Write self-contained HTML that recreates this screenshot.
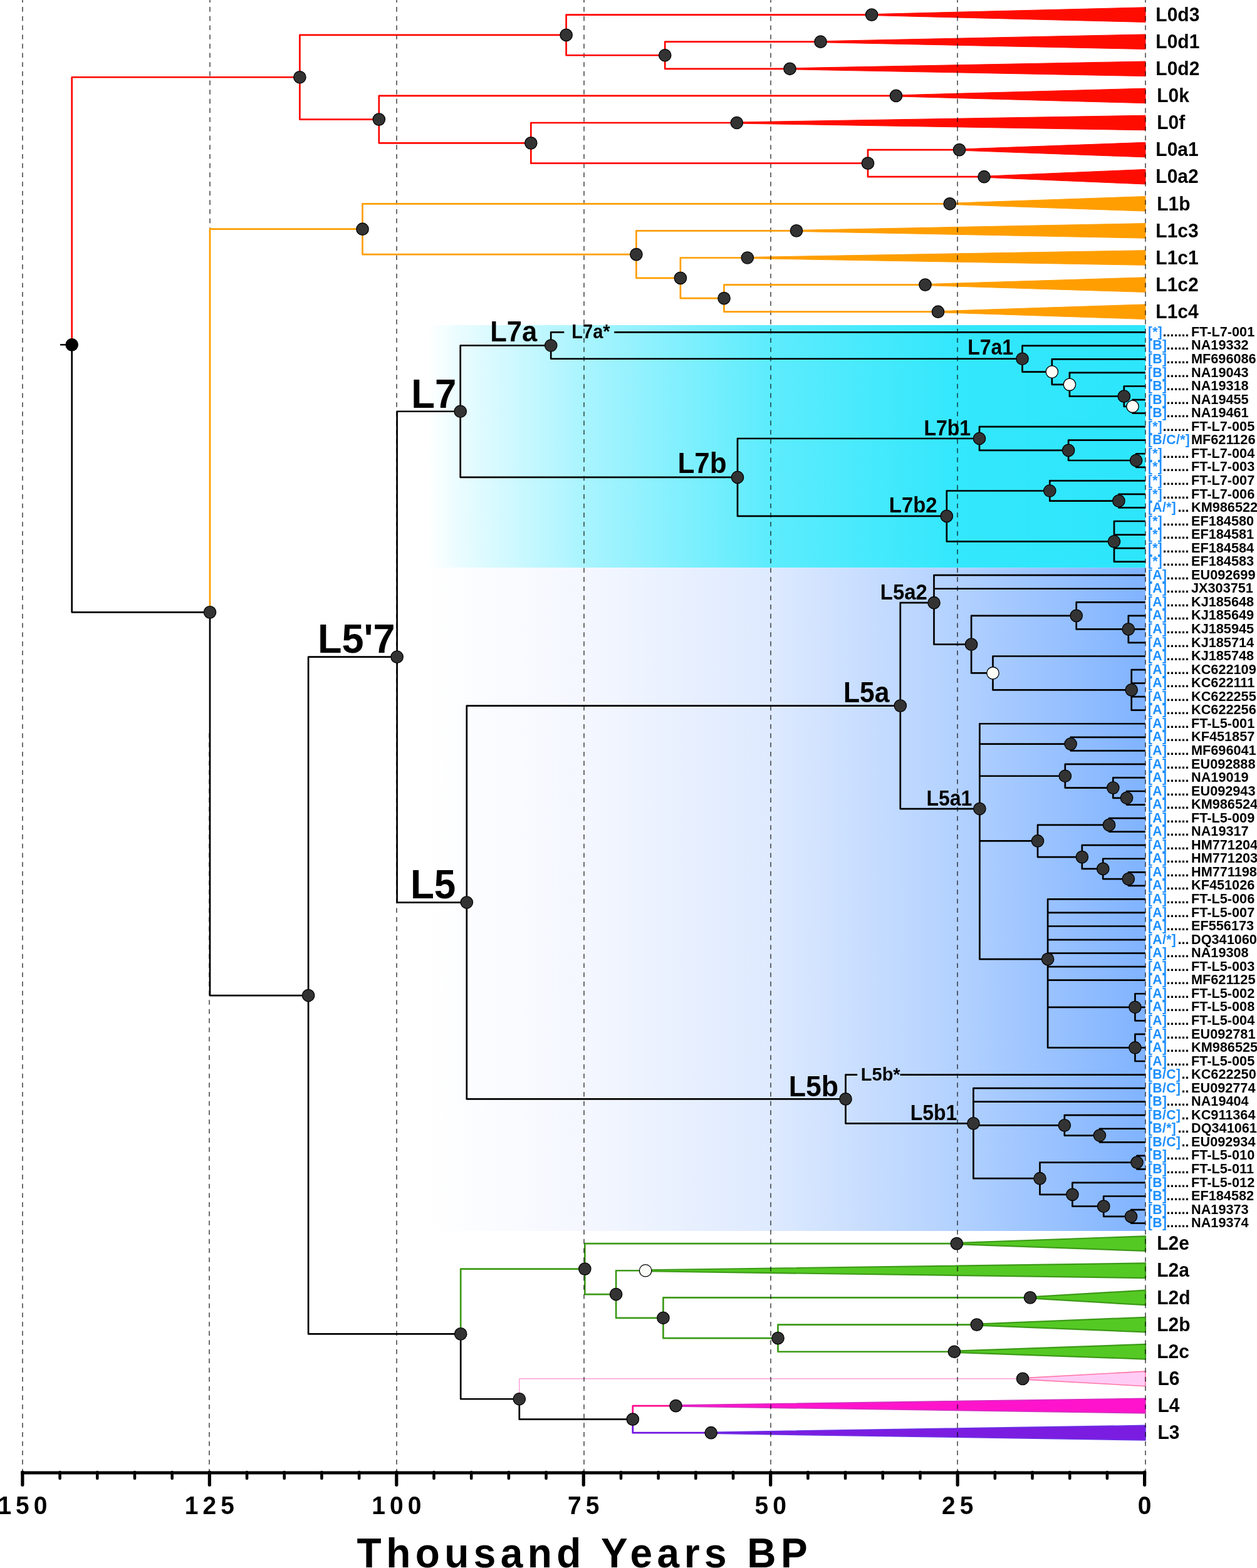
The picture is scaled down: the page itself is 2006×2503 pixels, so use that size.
<!DOCTYPE html><html><head><meta charset="utf-8"><title>mtDNA L tree</title>
<style>html,body{margin:0;padding:0;background:#fff;}svg{display:block;}text{font-family:"Liberation Sans",Arial,Helvetica,sans-serif;}</style></head><body>
<svg width="2006" height="2503" viewBox="0 0 2006 2503">
<defs>
<linearGradient id="gc" gradientUnits="userSpaceOnUse" x1="683" y1="0" x2="1828" y2="0"><stop offset="0" stop-color="#ffffff"/><stop offset="0.045" stop-color="#e9fcff"/><stop offset="0.22" stop-color="#a8f4fe"/><stop offset="0.475" stop-color="#5decfd"/><stop offset="0.74" stop-color="#33e7fc"/><stop offset="1" stop-color="#2de6fc"/></linearGradient>
<linearGradient id="gb" gradientUnits="userSpaceOnUse" x1="683" y1="0" x2="1828" y2="0"><stop offset="0" stop-color="#ffffff"/><stop offset="0.22" stop-color="#f4f7ff"/><stop offset="0.475" stop-color="#deeaff"/><stop offset="0.74" stop-color="#b2d1ff"/><stop offset="1" stop-color="#80b3ff"/></linearGradient>
</defs>
<rect x="683" y="519" width="1145" height="387.2" fill="url(#gc)"/>
<rect x="683" y="906.2" width="1145" height="1058.8" fill="url(#gb)"/>
<polygon points="1391.1,22.6 1828,11.8 1828,35.4 1391.1,24.6" fill="#ff0c00" stroke="#ff0c00" stroke-width="1" stroke-linejoin="round"/>
<polygon points="1309.5,65.7 1828,54.9 1828,78.5 1309.5,67.7" fill="#ff0c00" stroke="#ff0c00" stroke-width="1" stroke-linejoin="round"/>
<polygon points="1260.5,108.8 1828,98 1828,121.6 1260.5,110.8" fill="#ff0c00" stroke="#ff0c00" stroke-width="1" stroke-linejoin="round"/>
<polygon points="1430,151.9 1828,141.1 1828,164.7 1430,153.9" fill="#ff0c00" stroke="#ff0c00" stroke-width="1" stroke-linejoin="round"/>
<polygon points="1175.8,195 1828,184.2 1828,207.8 1175.8,197" fill="#ff0c00" stroke="#ff0c00" stroke-width="1" stroke-linejoin="round"/>
<polygon points="1531,238.1 1828,227.3 1828,250.9 1531,240.1" fill="#ff0c00" stroke="#ff0c00" stroke-width="1" stroke-linejoin="round"/>
<polygon points="1570.5,281.2 1828,270.4 1828,294 1570.5,283.2" fill="#ff0c00" stroke="#ff0c00" stroke-width="1" stroke-linejoin="round"/>
<polygon points="1515.7,324.3 1828,313.5 1828,337.1 1515.7,326.3" fill="#ff9e00" stroke="#ff9e00" stroke-width="1" stroke-linejoin="round"/>
<polygon points="1271,367.4 1828,356.6 1828,380.2 1271,369.4" fill="#ff9e00" stroke="#ff9e00" stroke-width="1" stroke-linejoin="round"/>
<polygon points="1192.8,410.5 1828,399.7 1828,423.3 1192.8,412.5" fill="#ff9e00" stroke="#ff9e00" stroke-width="1" stroke-linejoin="round"/>
<polygon points="1476.5,453.6 1828,442.8 1828,466.4 1476.5,455.6" fill="#ff9e00" stroke="#ff9e00" stroke-width="1" stroke-linejoin="round"/>
<polygon points="1497,496.7 1828,485.9 1828,509.5 1497,498.7" fill="#ff9e00" stroke="#ff9e00" stroke-width="1" stroke-linejoin="round"/>
<path d="M735.2 2129.42V2025.56H933.3M933.3 2025.56V1985.1H1526.8M933.3 2025.56V2066.03H983.1M983.1 2066.03V2028.26H1030.1M983.1 2066.03V2103.79H1058.4M1058.4 2103.79V2071.42H1644M1058.4 2103.79V2136.16H1241.5M1241.5 2136.16V2114.58H1558.8M1241.5 2136.16V2157.74H1522.9" fill="none" stroke="#3c9a16" stroke-width="2.7" stroke-linejoin="round" stroke-linecap="butt"/>
<path d="M828.8 2233.27V2200.9H1632.1" fill="none" stroke="#ff8ccd" stroke-width="1.2" stroke-linejoin="round" stroke-linecap="butt"/>
<path d="M1009.8 2265.64V2244.06H1078.5" fill="none" stroke="#ff0a8c" stroke-width="2.7" stroke-linejoin="round" stroke-linecap="butt"/>
<path d="M1009.8 2265.64V2287.22H1134.7" fill="none" stroke="#7012e0" stroke-width="2.7" stroke-linejoin="round" stroke-linecap="butt"/>
<polygon points="1526.8,1984.1 1828,1973.3 1828,1996.9 1526.8,1986.1" fill="#55c923" stroke="#3d9a18" stroke-width="2.2" stroke-linejoin="round"/>
<polygon points="1030.1,2027.26 1828,2016.46 1828,2040.06 1030.1,2029.26" fill="#55c923" stroke="#3d9a18" stroke-width="2.2" stroke-linejoin="round"/>
<polygon points="1644,2070.42 1828,2059.62 1828,2083.22 1644,2072.42" fill="#55c923" stroke="#3d9a18" stroke-width="2.2" stroke-linejoin="round"/>
<polygon points="1558.8,2113.58 1828,2102.78 1828,2126.38 1558.8,2115.58" fill="#55c923" stroke="#3d9a18" stroke-width="2.2" stroke-linejoin="round"/>
<polygon points="1522.9,2156.74 1828,2145.94 1828,2169.54 1522.9,2158.74" fill="#55c923" stroke="#3d9a18" stroke-width="2.2" stroke-linejoin="round"/>
<polygon points="1632.1,2199.9 1828,2189.1 1828,2212.7 1632.1,2201.9" fill="#ffccf6" stroke="#ff78a8" stroke-width="1.6" stroke-linejoin="round"/>
<polygon points="1078.5,2243.06 1828,2232.26 1828,2255.86 1078.5,2245.06" fill="#ff14cc" stroke="#d22fbe" stroke-width="1.6" stroke-linejoin="round"/>
<polygon points="1134.7,2286.22 1828,2275.42 1828,2299.02 1134.7,2288.22" fill="#7b1de0" stroke="#6a30e6" stroke-width="1.6" stroke-linejoin="round"/>
<line x1="36" y1="-3.577" x2="36" y2="2349" stroke="#000" stroke-opacity="0.57" stroke-width="2" stroke-dasharray="7.6 7.077"/>
<line x1="633" y1="-3.577" x2="633" y2="2349" stroke="#000" stroke-opacity="0.57" stroke-width="2" stroke-dasharray="7.6 7.077"/>
<line x1="932" y1="-3.577" x2="932" y2="2349" stroke="#000" stroke-opacity="0.57" stroke-width="2" stroke-dasharray="7.6 7.077"/>
<line x1="1230" y1="-3.577" x2="1230" y2="2349" stroke="#000" stroke-opacity="0.57" stroke-width="2" stroke-dasharray="7.6 7.077"/>
<line x1="1528" y1="-3.577" x2="1528" y2="2349" stroke="#000" stroke-opacity="0.57" stroke-width="2" stroke-dasharray="7.6 7.077"/>
<line x1="1828" y1="-3.577" x2="1828" y2="2349" stroke="#000" stroke-opacity="0.57" stroke-width="2" stroke-dasharray="7.6 7.077"/>
<line x1="335" y1="-3.577" x2="335" y2="1170.58" stroke="#000" stroke-opacity="0.57" stroke-width="2" stroke-dasharray="7.6 7.077"/>
<line x1="334" y1="1170.58" x2="334" y2="2349" stroke="#000" stroke-opacity="0.57" stroke-width="2" stroke-dasharray="7.6 7.077"/>
<path d="M114.7 550.32V123.27H478.4M478.4 123.27V55.92H903.6M903.6 55.92V23.6H1391.1M903.6 55.92V88.25H1061.2M1061.2 88.25V66.7H1309.5M1061.2 88.25V109.8H1260.5M478.4 123.27V190.61H604.8M604.8 190.61V152.9H1430M604.8 190.61V228.33H847.3M847.3 228.33V196H1175.8M847.3 228.33V260.65H1385M1385 260.65V239.1H1531M1385 260.65V282.2H1570.5" fill="none" stroke="#ff0500" stroke-width="2.7" stroke-linejoin="round" stroke-linecap="butt"/>
<path d="M114.7 550.32V977.37H335M335 977.37V1589.03H492.1M492.1 1589.03V1048.63H633.6M633.6 1048.63V656.74H734.7M734.7 656.74V551.51H879.2M879.2 551.51V530.3H900.3M980.2 530.3H1828M879.2 551.51V572.73H1631.5M1631.5 572.73V551.85H1828M1631.5 572.73V593.6H1678.8M1678.8 593.6V573.4H1828M1678.8 593.6V613.81H1706.9M1706.9 613.81V594.95H1828M1706.9 613.81V632.66H1793.8M1793.8 632.66V616.5H1828M1793.8 632.66V648.82H1807.5M1807.5 648.82V638.05H1828M1807.5 648.82V659.6H1828M734.7 656.74V761.96H1177M1177 761.96V700.01H1563M1563 700.01V681.15H1828M1563 700.01V718.86H1705.1M1705.1 718.86V702.7H1828M1705.1 718.86V735.02H1813.1M1813.1 735.02V724.25H1828M1813.1 735.02V745.8H1828M1177 761.96V823.92H1510.8M1510.8 823.92V783.51H1675.3M1675.3 783.51V767.35H1828M1675.3 783.51V799.67H1785.4M1785.4 799.67V788.9H1828M1785.4 799.67V810.45H1828M1510.8 823.92V864.32H1778M1778 864.32V832H1828M1778 864.32V853.55H1828M1778 864.32V875.1H1828M1778 864.32V896.65H1828M633.6 1048.63V1440.53H744.8M744.8 1440.53V1126.62H1436.8M1436.8 1126.62V962.2H1490.5M1490.5 962.2V918.2H1828M1490.5 962.2V939.75H1828M1490.5 962.2V1028.64H1550.1M1550.1 1028.64V982.85H1717.7M1717.7 982.85V961.3H1828M1717.7 982.85V1004.4H1800.8M1800.8 1004.4V982.85H1828M1800.8 1004.4V1004.4H1828M1800.8 1004.4V1025.95H1828M1550.1 1028.64V1074.44H1584.5M1584.5 1074.44V1047.5H1828M1584.5 1074.44V1101.38H1805.7M1805.7 1101.38V1069.05H1828M1805.7 1101.38V1090.6H1828M1805.7 1101.38V1112.15H1828M1805.7 1101.38V1133.7H1828M1436.8 1126.62V1291.04H1563.4M1563.4 1291.04V1155.25H1828M1563.4 1291.04V1187.57H1708.6M1708.6 1187.57V1176.8H1828M1708.6 1187.57V1198.35H1828M1563.4 1291.04V1238.76H1699.8M1699.8 1238.76V1219.9H1828M1699.8 1238.76V1257.61H1776.3M1776.3 1257.61V1241.45H1828M1776.3 1257.61V1273.78H1798M1798 1273.78V1263H1828M1798 1273.78V1284.55H1828M1563.4 1291.04V1342.47H1656M1656 1342.47V1316.88H1770M1770 1316.88V1306.1H1828M1770 1316.88V1327.65H1828M1656 1342.47V1368.06H1726.8M1726.8 1368.06V1349.2H1828M1726.8 1368.06V1386.91H1760.2M1760.2 1386.91V1370.75H1828M1760.2 1386.91V1403.07H1800.8M1800.8 1403.07V1392.3H1828M1800.8 1403.07V1413.85H1828M1563.4 1291.04V1531.18H1672.1M1672.1 1531.18V1435.4H1828M1672.1 1531.18V1456.95H1828M1672.1 1531.18V1478.5H1828M1672.1 1531.18V1500.05H1828M1672.1 1531.18V1521.6H1828M1672.1 1531.18V1543.15H1828M1672.1 1531.18V1564.7H1828M1672.1 1531.18V1607.8H1811.4M1811.4 1607.8V1586.25H1828M1811.4 1607.8V1607.8H1828M1811.4 1607.8V1629.35H1828M1672.1 1531.18V1672.45H1811.4M1811.4 1672.45V1650.9H1828M1811.4 1672.45V1672.45H1828M1811.4 1672.45V1694H1828M744.8 1440.53V1754.44H1349.5M1349.5 1754.44V1715.55H1368.2M1436.5 1715.55H1828M1349.5 1754.44V1793.33H1553.4M1553.4 1793.33V1737.1H1828M1553.4 1793.33V1758.65H1828M1553.4 1793.33V1796.36H1698.8M1698.8 1796.36V1780.2H1828M1698.8 1796.36V1812.53H1754.9M1754.9 1812.53V1801.75H1828M1754.9 1812.53V1823.3H1828M1553.4 1793.33V1881.22H1659.5M1659.5 1881.22V1855.62H1814.5M1814.5 1855.62V1844.85H1828M1814.5 1855.62V1866.4H1828M1659.5 1881.22V1906.81H1711.4M1711.4 1906.81V1887.95H1828M1711.4 1906.81V1925.66H1761.2M1761.2 1925.66V1909.5H1828M1761.2 1925.66V1941.82H1805M1805 1941.82V1931.05H1828M1805 1941.82V1952.6H1828M492.1 1589.03V2129.42H735.2M735.2 2129.42V2233.27H828.8M828.8 2233.27V2265.64H1009.8" fill="none" stroke="#000000" stroke-width="2.7" stroke-linejoin="round" stroke-linecap="butt"/>
<path d="M335 977.37V365.71H578.5M578.5 365.71V325.3H1515.7M578.5 365.71V406.11H1015.4M1015.4 406.11V368.4H1271M1015.4 406.11V443.83H1085.9M1085.9 443.83V411.5H1192.8M1085.9 443.83V476.15H1155.5M1155.5 476.15V454.6H1476.5M1155.5 476.15V497.7H1497" fill="none" stroke="#ff9e00" stroke-width="2.7" stroke-linejoin="round" stroke-linecap="butt"/>
<path d="M96 550.32H114.7" stroke="#000" stroke-width="2.4"/>
<circle cx="1391.1" cy="23.6" r="9.7" fill="#333333" stroke="#000" stroke-width="1.3"/>
<circle cx="1309.5" cy="66.7" r="9.7" fill="#333333" stroke="#000" stroke-width="1.3"/>
<circle cx="1260.5" cy="109.8" r="9.7" fill="#333333" stroke="#000" stroke-width="1.3"/>
<circle cx="1061.2" cy="88.25" r="9.7" fill="#333333" stroke="#000" stroke-width="1.3"/>
<circle cx="903.6" cy="55.92" r="9.7" fill="#333333" stroke="#000" stroke-width="1.3"/>
<circle cx="1430" cy="152.9" r="9.7" fill="#333333" stroke="#000" stroke-width="1.3"/>
<circle cx="1175.8" cy="196" r="9.7" fill="#333333" stroke="#000" stroke-width="1.3"/>
<circle cx="1531" cy="239.1" r="9.7" fill="#333333" stroke="#000" stroke-width="1.3"/>
<circle cx="1570.5" cy="282.2" r="9.7" fill="#333333" stroke="#000" stroke-width="1.3"/>
<circle cx="1385" cy="260.65" r="9.7" fill="#333333" stroke="#000" stroke-width="1.3"/>
<circle cx="847.3" cy="228.33" r="9.7" fill="#333333" stroke="#000" stroke-width="1.3"/>
<circle cx="604.8" cy="190.61" r="9.7" fill="#333333" stroke="#000" stroke-width="1.3"/>
<circle cx="478.4" cy="123.27" r="9.7" fill="#333333" stroke="#000" stroke-width="1.3"/>
<circle cx="1515.7" cy="325.3" r="9.7" fill="#333333" stroke="#000" stroke-width="1.3"/>
<circle cx="1271" cy="368.4" r="9.7" fill="#333333" stroke="#000" stroke-width="1.3"/>
<circle cx="1192.8" cy="411.5" r="9.7" fill="#333333" stroke="#000" stroke-width="1.3"/>
<circle cx="1476.5" cy="454.6" r="9.7" fill="#333333" stroke="#000" stroke-width="1.3"/>
<circle cx="1497" cy="497.7" r="9.7" fill="#333333" stroke="#000" stroke-width="1.3"/>
<circle cx="1155.5" cy="476.15" r="9.7" fill="#333333" stroke="#000" stroke-width="1.3"/>
<circle cx="1085.9" cy="443.83" r="9.7" fill="#333333" stroke="#000" stroke-width="1.3"/>
<circle cx="1015.4" cy="406.11" r="9.7" fill="#333333" stroke="#000" stroke-width="1.3"/>
<circle cx="578.5" cy="365.71" r="9.7" fill="#333333" stroke="#000" stroke-width="1.3"/>
<circle cx="1807.5" cy="648.82" r="9.7" fill="#fdfdf8" stroke="#000" stroke-width="1.3"/>
<circle cx="1793.8" cy="632.66" r="9.7" fill="#333333" stroke="#000" stroke-width="1.3"/>
<circle cx="1706.9" cy="613.81" r="9.7" fill="#fdfdf8" stroke="#000" stroke-width="1.3"/>
<circle cx="1678.8" cy="593.6" r="9.7" fill="#fdfdf8" stroke="#000" stroke-width="1.3"/>
<circle cx="1631.5" cy="572.73" r="9.7" fill="#333333" stroke="#000" stroke-width="1.3"/>
<circle cx="879.2" cy="551.51" r="9.7" fill="#333333" stroke="#000" stroke-width="1.3"/>
<circle cx="1813.1" cy="735.02" r="9.7" fill="#333333" stroke="#000" stroke-width="1.3"/>
<circle cx="1705.1" cy="718.86" r="9.7" fill="#333333" stroke="#000" stroke-width="1.3"/>
<circle cx="1563" cy="700.01" r="9.7" fill="#333333" stroke="#000" stroke-width="1.3"/>
<circle cx="1785.4" cy="799.67" r="9.7" fill="#333333" stroke="#000" stroke-width="1.3"/>
<circle cx="1675.3" cy="783.51" r="9.7" fill="#333333" stroke="#000" stroke-width="1.3"/>
<circle cx="1778" cy="864.32" r="9.7" fill="#333333" stroke="#000" stroke-width="1.3"/>
<circle cx="1510.8" cy="823.92" r="9.7" fill="#333333" stroke="#000" stroke-width="1.3"/>
<circle cx="1177" cy="761.96" r="9.7" fill="#333333" stroke="#000" stroke-width="1.3"/>
<circle cx="734.7" cy="656.74" r="9.7" fill="#333333" stroke="#000" stroke-width="1.3"/>
<circle cx="1800.8" cy="1004.4" r="9.7" fill="#333333" stroke="#000" stroke-width="1.3"/>
<circle cx="1717.7" cy="982.85" r="9.7" fill="#333333" stroke="#000" stroke-width="1.3"/>
<circle cx="1805.7" cy="1101.38" r="9.7" fill="#333333" stroke="#000" stroke-width="1.3"/>
<circle cx="1584.5" cy="1074.44" r="9.7" fill="#fdfdf8" stroke="#000" stroke-width="1.3"/>
<circle cx="1550.1" cy="1028.64" r="9.7" fill="#333333" stroke="#000" stroke-width="1.3"/>
<circle cx="1490.5" cy="962.2" r="9.7" fill="#333333" stroke="#000" stroke-width="1.3"/>
<circle cx="1708.6" cy="1187.57" r="9.7" fill="#333333" stroke="#000" stroke-width="1.3"/>
<circle cx="1798" cy="1273.78" r="9.7" fill="#333333" stroke="#000" stroke-width="1.3"/>
<circle cx="1776.3" cy="1257.61" r="9.7" fill="#333333" stroke="#000" stroke-width="1.3"/>
<circle cx="1699.8" cy="1238.76" r="9.7" fill="#333333" stroke="#000" stroke-width="1.3"/>
<circle cx="1770" cy="1316.88" r="9.7" fill="#333333" stroke="#000" stroke-width="1.3"/>
<circle cx="1800.8" cy="1403.07" r="9.7" fill="#333333" stroke="#000" stroke-width="1.3"/>
<circle cx="1760.2" cy="1386.91" r="9.7" fill="#333333" stroke="#000" stroke-width="1.3"/>
<circle cx="1726.8" cy="1368.06" r="9.7" fill="#333333" stroke="#000" stroke-width="1.3"/>
<circle cx="1656" cy="1342.47" r="9.7" fill="#333333" stroke="#000" stroke-width="1.3"/>
<circle cx="1811.4" cy="1607.8" r="9.7" fill="#333333" stroke="#000" stroke-width="1.3"/>
<circle cx="1811.4" cy="1672.45" r="9.7" fill="#333333" stroke="#000" stroke-width="1.3"/>
<circle cx="1672.1" cy="1531.18" r="9.7" fill="#333333" stroke="#000" stroke-width="1.3"/>
<circle cx="1563.4" cy="1291.04" r="9.7" fill="#333333" stroke="#000" stroke-width="1.3"/>
<circle cx="1436.8" cy="1126.62" r="9.7" fill="#333333" stroke="#000" stroke-width="1.3"/>
<circle cx="1754.9" cy="1812.53" r="9.7" fill="#333333" stroke="#000" stroke-width="1.3"/>
<circle cx="1698.8" cy="1796.36" r="9.7" fill="#333333" stroke="#000" stroke-width="1.3"/>
<circle cx="1814.5" cy="1855.62" r="9.7" fill="#333333" stroke="#000" stroke-width="1.3"/>
<circle cx="1805" cy="1941.82" r="9.7" fill="#333333" stroke="#000" stroke-width="1.3"/>
<circle cx="1761.2" cy="1925.66" r="9.7" fill="#333333" stroke="#000" stroke-width="1.3"/>
<circle cx="1711.4" cy="1906.81" r="9.7" fill="#333333" stroke="#000" stroke-width="1.3"/>
<circle cx="1659.5" cy="1881.22" r="9.7" fill="#333333" stroke="#000" stroke-width="1.3"/>
<circle cx="1553.4" cy="1793.33" r="9.7" fill="#333333" stroke="#000" stroke-width="1.3"/>
<circle cx="1349.5" cy="1754.44" r="9.7" fill="#333333" stroke="#000" stroke-width="1.3"/>
<circle cx="744.8" cy="1440.53" r="9.7" fill="#333333" stroke="#000" stroke-width="1.3"/>
<circle cx="633.6" cy="1048.63" r="9.7" fill="#333333" stroke="#000" stroke-width="1.3"/>
<circle cx="1526.8" cy="1985.1" r="9.7" fill="#333333" stroke="#000" stroke-width="1.3"/>
<circle cx="1030.1" cy="2028.26" r="9.7" fill="#fdfdf8" stroke="#000" stroke-width="1.3"/>
<circle cx="1644" cy="2071.42" r="9.7" fill="#333333" stroke="#000" stroke-width="1.3"/>
<circle cx="1558.8" cy="2114.58" r="9.7" fill="#333333" stroke="#000" stroke-width="1.3"/>
<circle cx="1522.9" cy="2157.74" r="9.7" fill="#333333" stroke="#000" stroke-width="1.3"/>
<circle cx="1241.5" cy="2136.16" r="9.7" fill="#333333" stroke="#000" stroke-width="1.3"/>
<circle cx="1058.4" cy="2103.79" r="9.7" fill="#333333" stroke="#000" stroke-width="1.3"/>
<circle cx="983.1" cy="2066.03" r="9.7" fill="#333333" stroke="#000" stroke-width="1.3"/>
<circle cx="933.3" cy="2025.56" r="9.7" fill="#333333" stroke="#000" stroke-width="1.3"/>
<circle cx="1632.1" cy="2200.9" r="9.7" fill="#333333" stroke="#000" stroke-width="1.3"/>
<circle cx="1078.5" cy="2244.06" r="9.7" fill="#333333" stroke="#000" stroke-width="1.3"/>
<circle cx="1134.7" cy="2287.22" r="9.7" fill="#333333" stroke="#000" stroke-width="1.3"/>
<circle cx="1009.8" cy="2265.64" r="9.7" fill="#333333" stroke="#000" stroke-width="1.3"/>
<circle cx="828.8" cy="2233.27" r="9.7" fill="#333333" stroke="#000" stroke-width="1.3"/>
<circle cx="735.2" cy="2129.42" r="9.7" fill="#333333" stroke="#000" stroke-width="1.3"/>
<circle cx="492.1" cy="1589.03" r="9.7" fill="#333333" stroke="#000" stroke-width="1.3"/>
<circle cx="335" cy="977.37" r="9.7" fill="#333333" stroke="#000" stroke-width="1.3"/>
<circle cx="114.7" cy="550.32" r="9.7" fill="#000" stroke="#000" stroke-width="1.3"/>
<text transform="translate(1844.35 33.8) scale(1 1.03)" font-size="30" font-weight="bold" fill="#000">L0d3</text>
<text transform="translate(1844.35 76.9) scale(1 1.03)" font-size="30" font-weight="bold" fill="#000">L0d1</text>
<text transform="translate(1844.35 120) scale(1 1.03)" font-size="30" font-weight="bold" fill="#000">L0d2</text>
<text transform="translate(1846.25 163.1) scale(1 1.03)" font-size="30" font-weight="bold" fill="#000">L0k</text>
<text transform="translate(1846.25 206.2) scale(1 1.03)" font-size="30" font-weight="bold" fill="#000">L0f</text>
<text transform="translate(1844.35 249.3) scale(1 1.03)" font-size="30" font-weight="bold" fill="#000">L0a1</text>
<text transform="translate(1844.35 292.4) scale(1 1.03)" font-size="30" font-weight="bold" fill="#000">L0a2</text>
<text transform="translate(1846.25 335.5) scale(1 1.03)" font-size="30" font-weight="bold" fill="#000">L1b</text>
<text transform="translate(1844.35 378.6) scale(1 1.03)" font-size="30" font-weight="bold" fill="#000">L1c3</text>
<text transform="translate(1844.35 421.7) scale(1 1.03)" font-size="30" font-weight="bold" fill="#000">L1c1</text>
<text transform="translate(1844.35 464.8) scale(1 1.03)" font-size="30" font-weight="bold" fill="#000">L1c2</text>
<text transform="translate(1844.35 507.9) scale(1 1.03)" font-size="30" font-weight="bold" fill="#000">L1c4</text>
<text transform="translate(1846.25 1995.3) scale(1 1.03)" font-size="30" font-weight="bold" fill="#000">L2e</text>
<text transform="translate(1846.25 2038.46) scale(1 1.03)" font-size="30" font-weight="bold" fill="#000">L2a</text>
<text transform="translate(1846.25 2081.62) scale(1 1.03)" font-size="30" font-weight="bold" fill="#000">L2d</text>
<text transform="translate(1846.25 2124.78) scale(1 1.03)" font-size="30" font-weight="bold" fill="#000">L2b</text>
<text transform="translate(1846.25 2167.94) scale(1 1.03)" font-size="30" font-weight="bold" fill="#000">L2c</text>
<text transform="translate(1847.55 2211.1) scale(1 1.03)" font-size="30" font-weight="bold" fill="#000">L6</text>
<text transform="translate(1847.55 2254.26) scale(1 1.03)" font-size="30" font-weight="bold" fill="#000">L4</text>
<text transform="translate(1847.55 2297.42) scale(1 1.03)" font-size="30" font-weight="bold" fill="#000">L3</text>
<text transform="translate(1832.0 536.9) scale(1 1.04)" font-size="21.3" font-weight="bold" letter-spacing="0.35" fill="#1e90ff"><tspan font-size="20.6">[</tspan>*<tspan font-size="20.6">]</tspan></text>
<text transform="translate(1897.6 536.9) scale(1 1.04)" font-size="21.7" font-weight="bold" text-anchor="end">.......</text>
<text transform="translate(1901 536.9) scale(1 1.04)" font-size="21.7" font-weight="bold" fill="#000">FT-L7-001</text>
<text transform="translate(1832.0 558.45) scale(1 1.04)" font-size="21.3" font-weight="bold" letter-spacing="0.35" fill="#1e90ff"><tspan font-size="20.6">[</tspan>B<tspan font-size="20.6">]</tspan></text>
<text transform="translate(1897.6 558.45) scale(1 1.04)" font-size="21.7" font-weight="bold" text-anchor="end">......</text>
<text transform="translate(1901 558.45) scale(1 1.04)" font-size="21.7" font-weight="bold" fill="#000">NA19332</text>
<text transform="translate(1832.0 580) scale(1 1.04)" font-size="21.3" font-weight="bold" letter-spacing="0.35" fill="#1e90ff"><tspan font-size="20.6">[</tspan>B<tspan font-size="20.6">]</tspan></text>
<text transform="translate(1897.6 580) scale(1 1.04)" font-size="21.7" font-weight="bold" text-anchor="end">......</text>
<text transform="translate(1901 580) scale(1 1.04)" font-size="21.7" font-weight="bold" fill="#000">MF696086</text>
<text transform="translate(1832.0 601.55) scale(1 1.04)" font-size="21.3" font-weight="bold" letter-spacing="0.35" fill="#1e90ff"><tspan font-size="20.6">[</tspan>B<tspan font-size="20.6">]</tspan></text>
<text transform="translate(1897.6 601.55) scale(1 1.04)" font-size="21.7" font-weight="bold" text-anchor="end">......</text>
<text transform="translate(1901 601.55) scale(1 1.04)" font-size="21.7" font-weight="bold" fill="#000">NA19043</text>
<text transform="translate(1832.0 623.1) scale(1 1.04)" font-size="21.3" font-weight="bold" letter-spacing="0.35" fill="#1e90ff"><tspan font-size="20.6">[</tspan>B<tspan font-size="20.6">]</tspan></text>
<text transform="translate(1897.6 623.1) scale(1 1.04)" font-size="21.7" font-weight="bold" text-anchor="end">......</text>
<text transform="translate(1901 623.1) scale(1 1.04)" font-size="21.7" font-weight="bold" fill="#000">NA19318</text>
<text transform="translate(1832.0 644.65) scale(1 1.04)" font-size="21.3" font-weight="bold" letter-spacing="0.35" fill="#1e90ff"><tspan font-size="20.6">[</tspan>B<tspan font-size="20.6">]</tspan></text>
<text transform="translate(1897.6 644.65) scale(1 1.04)" font-size="21.7" font-weight="bold" text-anchor="end">......</text>
<text transform="translate(1901 644.65) scale(1 1.04)" font-size="21.7" font-weight="bold" fill="#000">NA19455</text>
<text transform="translate(1832.0 666.2) scale(1 1.04)" font-size="21.3" font-weight="bold" letter-spacing="0.35" fill="#1e90ff"><tspan font-size="20.6">[</tspan>B<tspan font-size="20.6">]</tspan></text>
<text transform="translate(1897.6 666.2) scale(1 1.04)" font-size="21.7" font-weight="bold" text-anchor="end">......</text>
<text transform="translate(1901 666.2) scale(1 1.04)" font-size="21.7" font-weight="bold" fill="#000">NA19461</text>
<text transform="translate(1832.0 687.75) scale(1 1.04)" font-size="21.3" font-weight="bold" letter-spacing="0.35" fill="#1e90ff"><tspan font-size="20.6">[</tspan>*<tspan font-size="20.6">]</tspan></text>
<text transform="translate(1897.6 687.75) scale(1 1.04)" font-size="21.7" font-weight="bold" text-anchor="end">.......</text>
<text transform="translate(1901 687.75) scale(1 1.04)" font-size="21.7" font-weight="bold" fill="#000">FT-L7-005</text>
<text transform="translate(1832.0 709.3) scale(1 1.04)" font-size="21.3" font-weight="bold" letter-spacing="0.35" fill="#1e90ff"><tspan font-size="20.6">[</tspan>B/C/*<tspan font-size="20.6">]</tspan></text>
<text transform="translate(1901 709.3) scale(1 1.04)" font-size="21.7" font-weight="bold" fill="#000">MF621126</text>
<text transform="translate(1832.0 730.85) scale(1 1.04)" font-size="21.3" font-weight="bold" letter-spacing="0.35" fill="#1e90ff"><tspan font-size="20.6">[</tspan>*<tspan font-size="20.6">]</tspan></text>
<text transform="translate(1897.6 730.85) scale(1 1.04)" font-size="21.7" font-weight="bold" text-anchor="end">.......</text>
<text transform="translate(1901 730.85) scale(1 1.04)" font-size="21.7" font-weight="bold" fill="#000">FT-L7-004</text>
<text transform="translate(1832.0 752.4) scale(1 1.04)" font-size="21.3" font-weight="bold" letter-spacing="0.35" fill="#1e90ff"><tspan font-size="20.6">[</tspan>*<tspan font-size="20.6">]</tspan></text>
<text transform="translate(1897.6 752.4) scale(1 1.04)" font-size="21.7" font-weight="bold" text-anchor="end">.......</text>
<text transform="translate(1901 752.4) scale(1 1.04)" font-size="21.7" font-weight="bold" fill="#000">FT-L7-003</text>
<text transform="translate(1832.0 773.95) scale(1 1.04)" font-size="21.3" font-weight="bold" letter-spacing="0.35" fill="#1e90ff"><tspan font-size="20.6">[</tspan>*<tspan font-size="20.6">]</tspan></text>
<text transform="translate(1897.6 773.95) scale(1 1.04)" font-size="21.7" font-weight="bold" text-anchor="end">.......</text>
<text transform="translate(1901 773.95) scale(1 1.04)" font-size="21.7" font-weight="bold" fill="#000">FT-L7-007</text>
<text transform="translate(1832.0 795.5) scale(1 1.04)" font-size="21.3" font-weight="bold" letter-spacing="0.35" fill="#1e90ff"><tspan font-size="20.6">[</tspan>*<tspan font-size="20.6">]</tspan></text>
<text transform="translate(1897.6 795.5) scale(1 1.04)" font-size="21.7" font-weight="bold" text-anchor="end">.......</text>
<text transform="translate(1901 795.5) scale(1 1.04)" font-size="21.7" font-weight="bold" fill="#000">FT-L7-006</text>
<text transform="translate(1832.0 817.05) scale(1 1.04)" font-size="21.3" font-weight="bold" letter-spacing="0.35" fill="#1e90ff"><tspan font-size="20.6">[</tspan>A/*<tspan font-size="20.6">]</tspan></text>
<text transform="translate(1897.6 817.05) scale(1 1.04)" font-size="21.7" font-weight="bold" text-anchor="end">...</text>
<text transform="translate(1901 817.05) scale(1 1.04)" font-size="21.7" font-weight="bold" fill="#000">KM986522</text>
<text transform="translate(1832.0 838.6) scale(1 1.04)" font-size="21.3" font-weight="bold" letter-spacing="0.35" fill="#1e90ff"><tspan font-size="20.6">[</tspan>*<tspan font-size="20.6">]</tspan></text>
<text transform="translate(1897.6 838.6) scale(1 1.04)" font-size="21.7" font-weight="bold" text-anchor="end">.......</text>
<text transform="translate(1901 838.6) scale(1 1.04)" font-size="21.7" font-weight="bold" fill="#000">EF184580</text>
<text transform="translate(1832.0 860.15) scale(1 1.04)" font-size="21.3" font-weight="bold" letter-spacing="0.35" fill="#1e90ff"><tspan font-size="20.6">[</tspan>*<tspan font-size="20.6">]</tspan></text>
<text transform="translate(1897.6 860.15) scale(1 1.04)" font-size="21.7" font-weight="bold" text-anchor="end">.......</text>
<text transform="translate(1901 860.15) scale(1 1.04)" font-size="21.7" font-weight="bold" fill="#000">EF184581</text>
<text transform="translate(1832.0 881.7) scale(1 1.04)" font-size="21.3" font-weight="bold" letter-spacing="0.35" fill="#1e90ff"><tspan font-size="20.6">[</tspan>*<tspan font-size="20.6">]</tspan></text>
<text transform="translate(1897.6 881.7) scale(1 1.04)" font-size="21.7" font-weight="bold" text-anchor="end">.......</text>
<text transform="translate(1901 881.7) scale(1 1.04)" font-size="21.7" font-weight="bold" fill="#000">EF184584</text>
<text transform="translate(1832.0 903.25) scale(1 1.04)" font-size="21.3" font-weight="bold" letter-spacing="0.35" fill="#1e90ff"><tspan font-size="20.6">[</tspan>*<tspan font-size="20.6">]</tspan></text>
<text transform="translate(1897.6 903.25) scale(1 1.04)" font-size="21.7" font-weight="bold" text-anchor="end">.......</text>
<text transform="translate(1901 903.25) scale(1 1.04)" font-size="21.7" font-weight="bold" fill="#000">EF184583</text>
<text transform="translate(1832.0 924.8) scale(1 1.04)" font-size="21.3" font-weight="bold" letter-spacing="0.35" fill="#1e90ff"><tspan font-size="20.6">[</tspan>A<tspan font-size="20.6">]</tspan></text>
<text transform="translate(1897.6 924.8) scale(1 1.04)" font-size="21.7" font-weight="bold" text-anchor="end">......</text>
<text transform="translate(1901 924.8) scale(1 1.04)" font-size="21.7" font-weight="bold" fill="#000">EU092699</text>
<text transform="translate(1832.0 946.35) scale(1 1.04)" font-size="21.3" font-weight="bold" letter-spacing="0.35" fill="#1e90ff"><tspan font-size="20.6">[</tspan>A<tspan font-size="20.6">]</tspan></text>
<text transform="translate(1897.6 946.35) scale(1 1.04)" font-size="21.7" font-weight="bold" text-anchor="end">......</text>
<text transform="translate(1901 946.35) scale(1 1.04)" font-size="21.7" font-weight="bold" fill="#000">JX303751</text>
<text transform="translate(1832.0 967.9) scale(1 1.04)" font-size="21.3" font-weight="bold" letter-spacing="0.35" fill="#1e90ff"><tspan font-size="20.6">[</tspan>A<tspan font-size="20.6">]</tspan></text>
<text transform="translate(1897.6 967.9) scale(1 1.04)" font-size="21.7" font-weight="bold" text-anchor="end">......</text>
<text transform="translate(1901 967.9) scale(1 1.04)" font-size="21.7" font-weight="bold" fill="#000">KJ185648</text>
<text transform="translate(1832.0 989.45) scale(1 1.04)" font-size="21.3" font-weight="bold" letter-spacing="0.35" fill="#1e90ff"><tspan font-size="20.6">[</tspan>A<tspan font-size="20.6">]</tspan></text>
<text transform="translate(1897.6 989.45) scale(1 1.04)" font-size="21.7" font-weight="bold" text-anchor="end">......</text>
<text transform="translate(1901 989.45) scale(1 1.04)" font-size="21.7" font-weight="bold" fill="#000">KJ185649</text>
<text transform="translate(1832.0 1011) scale(1 1.04)" font-size="21.3" font-weight="bold" letter-spacing="0.35" fill="#1e90ff"><tspan font-size="20.6">[</tspan>A<tspan font-size="20.6">]</tspan></text>
<text transform="translate(1897.6 1011) scale(1 1.04)" font-size="21.7" font-weight="bold" text-anchor="end">......</text>
<text transform="translate(1901 1011) scale(1 1.04)" font-size="21.7" font-weight="bold" fill="#000">KJ185945</text>
<text transform="translate(1832.0 1032.55) scale(1 1.04)" font-size="21.3" font-weight="bold" letter-spacing="0.35" fill="#1e90ff"><tspan font-size="20.6">[</tspan>A<tspan font-size="20.6">]</tspan></text>
<text transform="translate(1897.6 1032.55) scale(1 1.04)" font-size="21.7" font-weight="bold" text-anchor="end">......</text>
<text transform="translate(1901 1032.55) scale(1 1.04)" font-size="21.7" font-weight="bold" fill="#000">KJ185714</text>
<text transform="translate(1832.0 1054.1) scale(1 1.04)" font-size="21.3" font-weight="bold" letter-spacing="0.35" fill="#1e90ff"><tspan font-size="20.6">[</tspan>A<tspan font-size="20.6">]</tspan></text>
<text transform="translate(1897.6 1054.1) scale(1 1.04)" font-size="21.7" font-weight="bold" text-anchor="end">......</text>
<text transform="translate(1901 1054.1) scale(1 1.04)" font-size="21.7" font-weight="bold" fill="#000">KJ185748</text>
<text transform="translate(1832.0 1075.65) scale(1 1.04)" font-size="21.3" font-weight="bold" letter-spacing="0.35" fill="#1e90ff"><tspan font-size="20.6">[</tspan>A<tspan font-size="20.6">]</tspan></text>
<text transform="translate(1897.6 1075.65) scale(1 1.04)" font-size="21.7" font-weight="bold" text-anchor="end">......</text>
<text transform="translate(1901 1075.65) scale(1 1.04)" font-size="21.7" font-weight="bold" fill="#000">KC622109</text>
<text transform="translate(1832.0 1097.2) scale(1 1.04)" font-size="21.3" font-weight="bold" letter-spacing="0.35" fill="#1e90ff"><tspan font-size="20.6">[</tspan>A<tspan font-size="20.6">]</tspan></text>
<text transform="translate(1897.6 1097.2) scale(1 1.04)" font-size="21.7" font-weight="bold" text-anchor="end">......</text>
<text transform="translate(1901 1097.2) scale(1 1.04)" font-size="21.7" font-weight="bold" fill="#000">KC622111</text>
<text transform="translate(1832.0 1118.75) scale(1 1.04)" font-size="21.3" font-weight="bold" letter-spacing="0.35" fill="#1e90ff"><tspan font-size="20.6">[</tspan>A<tspan font-size="20.6">]</tspan></text>
<text transform="translate(1897.6 1118.75) scale(1 1.04)" font-size="21.7" font-weight="bold" text-anchor="end">......</text>
<text transform="translate(1901 1118.75) scale(1 1.04)" font-size="21.7" font-weight="bold" fill="#000">KC622255</text>
<text transform="translate(1832.0 1140.3) scale(1 1.04)" font-size="21.3" font-weight="bold" letter-spacing="0.35" fill="#1e90ff"><tspan font-size="20.6">[</tspan>A<tspan font-size="20.6">]</tspan></text>
<text transform="translate(1897.6 1140.3) scale(1 1.04)" font-size="21.7" font-weight="bold" text-anchor="end">......</text>
<text transform="translate(1901 1140.3) scale(1 1.04)" font-size="21.7" font-weight="bold" fill="#000">KC622256</text>
<text transform="translate(1832.0 1161.85) scale(1 1.04)" font-size="21.3" font-weight="bold" letter-spacing="0.35" fill="#1e90ff"><tspan font-size="20.6">[</tspan>A<tspan font-size="20.6">]</tspan></text>
<text transform="translate(1897.6 1161.85) scale(1 1.04)" font-size="21.7" font-weight="bold" text-anchor="end">......</text>
<text transform="translate(1901 1161.85) scale(1 1.04)" font-size="21.7" font-weight="bold" fill="#000">FT-L5-001</text>
<text transform="translate(1832.0 1183.4) scale(1 1.04)" font-size="21.3" font-weight="bold" letter-spacing="0.35" fill="#1e90ff"><tspan font-size="20.6">[</tspan>A<tspan font-size="20.6">]</tspan></text>
<text transform="translate(1897.6 1183.4) scale(1 1.04)" font-size="21.7" font-weight="bold" text-anchor="end">......</text>
<text transform="translate(1901 1183.4) scale(1 1.04)" font-size="21.7" font-weight="bold" fill="#000">KF451857</text>
<text transform="translate(1832.0 1204.95) scale(1 1.04)" font-size="21.3" font-weight="bold" letter-spacing="0.35" fill="#1e90ff"><tspan font-size="20.6">[</tspan>A<tspan font-size="20.6">]</tspan></text>
<text transform="translate(1897.6 1204.95) scale(1 1.04)" font-size="21.7" font-weight="bold" text-anchor="end">......</text>
<text transform="translate(1901 1204.95) scale(1 1.04)" font-size="21.7" font-weight="bold" fill="#000">MF696041</text>
<text transform="translate(1832.0 1226.5) scale(1 1.04)" font-size="21.3" font-weight="bold" letter-spacing="0.35" fill="#1e90ff"><tspan font-size="20.6">[</tspan>A<tspan font-size="20.6">]</tspan></text>
<text transform="translate(1897.6 1226.5) scale(1 1.04)" font-size="21.7" font-weight="bold" text-anchor="end">......</text>
<text transform="translate(1901 1226.5) scale(1 1.04)" font-size="21.7" font-weight="bold" fill="#000">EU092888</text>
<text transform="translate(1832.0 1248.05) scale(1 1.04)" font-size="21.3" font-weight="bold" letter-spacing="0.35" fill="#1e90ff"><tspan font-size="20.6">[</tspan>A<tspan font-size="20.6">]</tspan></text>
<text transform="translate(1897.6 1248.05) scale(1 1.04)" font-size="21.7" font-weight="bold" text-anchor="end">......</text>
<text transform="translate(1901 1248.05) scale(1 1.04)" font-size="21.7" font-weight="bold" fill="#000">NA19019</text>
<text transform="translate(1832.0 1269.6) scale(1 1.04)" font-size="21.3" font-weight="bold" letter-spacing="0.35" fill="#1e90ff"><tspan font-size="20.6">[</tspan>A<tspan font-size="20.6">]</tspan></text>
<text transform="translate(1897.6 1269.6) scale(1 1.04)" font-size="21.7" font-weight="bold" text-anchor="end">......</text>
<text transform="translate(1901 1269.6) scale(1 1.04)" font-size="21.7" font-weight="bold" fill="#000">EU092943</text>
<text transform="translate(1832.0 1291.15) scale(1 1.04)" font-size="21.3" font-weight="bold" letter-spacing="0.35" fill="#1e90ff"><tspan font-size="20.6">[</tspan>A<tspan font-size="20.6">]</tspan></text>
<text transform="translate(1897.6 1291.15) scale(1 1.04)" font-size="21.7" font-weight="bold" text-anchor="end">......</text>
<text transform="translate(1901 1291.15) scale(1 1.04)" font-size="21.7" font-weight="bold" fill="#000">KM986524</text>
<text transform="translate(1832.0 1312.7) scale(1 1.04)" font-size="21.3" font-weight="bold" letter-spacing="0.35" fill="#1e90ff"><tspan font-size="20.6">[</tspan>A<tspan font-size="20.6">]</tspan></text>
<text transform="translate(1897.6 1312.7) scale(1 1.04)" font-size="21.7" font-weight="bold" text-anchor="end">......</text>
<text transform="translate(1901 1312.7) scale(1 1.04)" font-size="21.7" font-weight="bold" fill="#000">FT-L5-009</text>
<text transform="translate(1832.0 1334.25) scale(1 1.04)" font-size="21.3" font-weight="bold" letter-spacing="0.35" fill="#1e90ff"><tspan font-size="20.6">[</tspan>A<tspan font-size="20.6">]</tspan></text>
<text transform="translate(1897.6 1334.25) scale(1 1.04)" font-size="21.7" font-weight="bold" text-anchor="end">......</text>
<text transform="translate(1901 1334.25) scale(1 1.04)" font-size="21.7" font-weight="bold" fill="#000">NA19317</text>
<text transform="translate(1832.0 1355.8) scale(1 1.04)" font-size="21.3" font-weight="bold" letter-spacing="0.35" fill="#1e90ff"><tspan font-size="20.6">[</tspan>A<tspan font-size="20.6">]</tspan></text>
<text transform="translate(1897.6 1355.8) scale(1 1.04)" font-size="21.7" font-weight="bold" text-anchor="end">......</text>
<text transform="translate(1901 1355.8) scale(1 1.04)" font-size="21.7" font-weight="bold" fill="#000">HM771204</text>
<text transform="translate(1832.0 1377.35) scale(1 1.04)" font-size="21.3" font-weight="bold" letter-spacing="0.35" fill="#1e90ff"><tspan font-size="20.6">[</tspan>A<tspan font-size="20.6">]</tspan></text>
<text transform="translate(1897.6 1377.35) scale(1 1.04)" font-size="21.7" font-weight="bold" text-anchor="end">......</text>
<text transform="translate(1901 1377.35) scale(1 1.04)" font-size="21.7" font-weight="bold" fill="#000">HM771203</text>
<text transform="translate(1832.0 1398.9) scale(1 1.04)" font-size="21.3" font-weight="bold" letter-spacing="0.35" fill="#1e90ff"><tspan font-size="20.6">[</tspan>A<tspan font-size="20.6">]</tspan></text>
<text transform="translate(1897.6 1398.9) scale(1 1.04)" font-size="21.7" font-weight="bold" text-anchor="end">......</text>
<text transform="translate(1901 1398.9) scale(1 1.04)" font-size="21.7" font-weight="bold" fill="#000">HM771198</text>
<text transform="translate(1832.0 1420.45) scale(1 1.04)" font-size="21.3" font-weight="bold" letter-spacing="0.35" fill="#1e90ff"><tspan font-size="20.6">[</tspan>A<tspan font-size="20.6">]</tspan></text>
<text transform="translate(1897.6 1420.45) scale(1 1.04)" font-size="21.7" font-weight="bold" text-anchor="end">......</text>
<text transform="translate(1901 1420.45) scale(1 1.04)" font-size="21.7" font-weight="bold" fill="#000">KF451026</text>
<text transform="translate(1832.0 1442) scale(1 1.04)" font-size="21.3" font-weight="bold" letter-spacing="0.35" fill="#1e90ff"><tspan font-size="20.6">[</tspan>A<tspan font-size="20.6">]</tspan></text>
<text transform="translate(1897.6 1442) scale(1 1.04)" font-size="21.7" font-weight="bold" text-anchor="end">......</text>
<text transform="translate(1901 1442) scale(1 1.04)" font-size="21.7" font-weight="bold" fill="#000">FT-L5-006</text>
<text transform="translate(1832.0 1463.55) scale(1 1.04)" font-size="21.3" font-weight="bold" letter-spacing="0.35" fill="#1e90ff"><tspan font-size="20.6">[</tspan>A<tspan font-size="20.6">]</tspan></text>
<text transform="translate(1897.6 1463.55) scale(1 1.04)" font-size="21.7" font-weight="bold" text-anchor="end">......</text>
<text transform="translate(1901 1463.55) scale(1 1.04)" font-size="21.7" font-weight="bold" fill="#000">FT-L5-007</text>
<text transform="translate(1832.0 1485.1) scale(1 1.04)" font-size="21.3" font-weight="bold" letter-spacing="0.35" fill="#1e90ff"><tspan font-size="20.6">[</tspan>A<tspan font-size="20.6">]</tspan></text>
<text transform="translate(1897.6 1485.1) scale(1 1.04)" font-size="21.7" font-weight="bold" text-anchor="end">......</text>
<text transform="translate(1901 1485.1) scale(1 1.04)" font-size="21.7" font-weight="bold" fill="#000">EF556173</text>
<text transform="translate(1832.0 1506.65) scale(1 1.04)" font-size="21.3" font-weight="bold" letter-spacing="0.35" fill="#1e90ff"><tspan font-size="20.6">[</tspan>A/*<tspan font-size="20.6">]</tspan></text>
<text transform="translate(1897.6 1506.65) scale(1 1.04)" font-size="21.7" font-weight="bold" text-anchor="end">...</text>
<text transform="translate(1901 1506.65) scale(1 1.04)" font-size="21.7" font-weight="bold" fill="#000">DQ341060</text>
<text transform="translate(1832.0 1528.2) scale(1 1.04)" font-size="21.3" font-weight="bold" letter-spacing="0.35" fill="#1e90ff"><tspan font-size="20.6">[</tspan>A<tspan font-size="20.6">]</tspan></text>
<text transform="translate(1897.6 1528.2) scale(1 1.04)" font-size="21.7" font-weight="bold" text-anchor="end">......</text>
<text transform="translate(1901 1528.2) scale(1 1.04)" font-size="21.7" font-weight="bold" fill="#000">NA19308</text>
<text transform="translate(1832.0 1549.75) scale(1 1.04)" font-size="21.3" font-weight="bold" letter-spacing="0.35" fill="#1e90ff"><tspan font-size="20.6">[</tspan>A<tspan font-size="20.6">]</tspan></text>
<text transform="translate(1897.6 1549.75) scale(1 1.04)" font-size="21.7" font-weight="bold" text-anchor="end">......</text>
<text transform="translate(1901 1549.75) scale(1 1.04)" font-size="21.7" font-weight="bold" fill="#000">FT-L5-003</text>
<text transform="translate(1832.0 1571.3) scale(1 1.04)" font-size="21.3" font-weight="bold" letter-spacing="0.35" fill="#1e90ff"><tspan font-size="20.6">[</tspan>A<tspan font-size="20.6">]</tspan></text>
<text transform="translate(1897.6 1571.3) scale(1 1.04)" font-size="21.7" font-weight="bold" text-anchor="end">......</text>
<text transform="translate(1901 1571.3) scale(1 1.04)" font-size="21.7" font-weight="bold" fill="#000">MF621125</text>
<text transform="translate(1832.0 1592.85) scale(1 1.04)" font-size="21.3" font-weight="bold" letter-spacing="0.35" fill="#1e90ff"><tspan font-size="20.6">[</tspan>A<tspan font-size="20.6">]</tspan></text>
<text transform="translate(1897.6 1592.85) scale(1 1.04)" font-size="21.7" font-weight="bold" text-anchor="end">......</text>
<text transform="translate(1901 1592.85) scale(1 1.04)" font-size="21.7" font-weight="bold" fill="#000">FT-L5-002</text>
<text transform="translate(1832.0 1614.4) scale(1 1.04)" font-size="21.3" font-weight="bold" letter-spacing="0.35" fill="#1e90ff"><tspan font-size="20.6">[</tspan>A<tspan font-size="20.6">]</tspan></text>
<text transform="translate(1897.6 1614.4) scale(1 1.04)" font-size="21.7" font-weight="bold" text-anchor="end">......</text>
<text transform="translate(1901 1614.4) scale(1 1.04)" font-size="21.7" font-weight="bold" fill="#000">FT-L5-008</text>
<text transform="translate(1832.0 1635.95) scale(1 1.04)" font-size="21.3" font-weight="bold" letter-spacing="0.35" fill="#1e90ff"><tspan font-size="20.6">[</tspan>A<tspan font-size="20.6">]</tspan></text>
<text transform="translate(1897.6 1635.95) scale(1 1.04)" font-size="21.7" font-weight="bold" text-anchor="end">......</text>
<text transform="translate(1901 1635.95) scale(1 1.04)" font-size="21.7" font-weight="bold" fill="#000">FT-L5-004</text>
<text transform="translate(1832.0 1657.5) scale(1 1.04)" font-size="21.3" font-weight="bold" letter-spacing="0.35" fill="#1e90ff"><tspan font-size="20.6">[</tspan>A<tspan font-size="20.6">]</tspan></text>
<text transform="translate(1897.6 1657.5) scale(1 1.04)" font-size="21.7" font-weight="bold" text-anchor="end">......</text>
<text transform="translate(1901 1657.5) scale(1 1.04)" font-size="21.7" font-weight="bold" fill="#000">EU092781</text>
<text transform="translate(1832.0 1679.05) scale(1 1.04)" font-size="21.3" font-weight="bold" letter-spacing="0.35" fill="#1e90ff"><tspan font-size="20.6">[</tspan>A<tspan font-size="20.6">]</tspan></text>
<text transform="translate(1897.6 1679.05) scale(1 1.04)" font-size="21.7" font-weight="bold" text-anchor="end">......</text>
<text transform="translate(1901 1679.05) scale(1 1.04)" font-size="21.7" font-weight="bold" fill="#000">KM986525</text>
<text transform="translate(1832.0 1700.6) scale(1 1.04)" font-size="21.3" font-weight="bold" letter-spacing="0.35" fill="#1e90ff"><tspan font-size="20.6">[</tspan>A<tspan font-size="20.6">]</tspan></text>
<text transform="translate(1897.6 1700.6) scale(1 1.04)" font-size="21.7" font-weight="bold" text-anchor="end">......</text>
<text transform="translate(1901 1700.6) scale(1 1.04)" font-size="21.7" font-weight="bold" fill="#000">FT-L5-005</text>
<text transform="translate(1832.0 1722.15) scale(1 1.04)" font-size="21.3" font-weight="bold" letter-spacing="0.35" fill="#1e90ff"><tspan font-size="20.6">[</tspan>B/C<tspan font-size="20.6">]</tspan></text>
<text transform="translate(1897.6 1722.15) scale(1 1.04)" font-size="21.7" font-weight="bold" text-anchor="end">..</text>
<text transform="translate(1901 1722.15) scale(1 1.04)" font-size="21.7" font-weight="bold" fill="#000">KC622250</text>
<text transform="translate(1832.0 1743.7) scale(1 1.04)" font-size="21.3" font-weight="bold" letter-spacing="0.35" fill="#1e90ff"><tspan font-size="20.6">[</tspan>B/C<tspan font-size="20.6">]</tspan></text>
<text transform="translate(1897.6 1743.7) scale(1 1.04)" font-size="21.7" font-weight="bold" text-anchor="end">..</text>
<text transform="translate(1901 1743.7) scale(1 1.04)" font-size="21.7" font-weight="bold" fill="#000">EU092774</text>
<text transform="translate(1832.0 1765.25) scale(1 1.04)" font-size="21.3" font-weight="bold" letter-spacing="0.35" fill="#1e90ff"><tspan font-size="20.6">[</tspan>B<tspan font-size="20.6">]</tspan></text>
<text transform="translate(1897.6 1765.25) scale(1 1.04)" font-size="21.7" font-weight="bold" text-anchor="end">......</text>
<text transform="translate(1901 1765.25) scale(1 1.04)" font-size="21.7" font-weight="bold" fill="#000">NA19404</text>
<text transform="translate(1832.0 1786.8) scale(1 1.04)" font-size="21.3" font-weight="bold" letter-spacing="0.35" fill="#1e90ff"><tspan font-size="20.6">[</tspan>B/C<tspan font-size="20.6">]</tspan></text>
<text transform="translate(1897.6 1786.8) scale(1 1.04)" font-size="21.7" font-weight="bold" text-anchor="end">..</text>
<text transform="translate(1901 1786.8) scale(1 1.04)" font-size="21.7" font-weight="bold" fill="#000">KC911364</text>
<text transform="translate(1832.0 1808.35) scale(1 1.04)" font-size="21.3" font-weight="bold" letter-spacing="0.35" fill="#1e90ff"><tspan font-size="20.6">[</tspan>B/*<tspan font-size="20.6">]</tspan></text>
<text transform="translate(1897.6 1808.35) scale(1 1.04)" font-size="21.7" font-weight="bold" text-anchor="end">...</text>
<text transform="translate(1901 1808.35) scale(1 1.04)" font-size="21.7" font-weight="bold" fill="#000">DQ341061</text>
<text transform="translate(1832.0 1829.9) scale(1 1.04)" font-size="21.3" font-weight="bold" letter-spacing="0.35" fill="#1e90ff"><tspan font-size="20.6">[</tspan>B/C<tspan font-size="20.6">]</tspan></text>
<text transform="translate(1897.6 1829.9) scale(1 1.04)" font-size="21.7" font-weight="bold" text-anchor="end">..</text>
<text transform="translate(1901 1829.9) scale(1 1.04)" font-size="21.7" font-weight="bold" fill="#000">EU092934</text>
<text transform="translate(1832.0 1851.45) scale(1 1.04)" font-size="21.3" font-weight="bold" letter-spacing="0.35" fill="#1e90ff"><tspan font-size="20.6">[</tspan>B<tspan font-size="20.6">]</tspan></text>
<text transform="translate(1897.6 1851.45) scale(1 1.04)" font-size="21.7" font-weight="bold" text-anchor="end">......</text>
<text transform="translate(1901 1851.45) scale(1 1.04)" font-size="21.7" font-weight="bold" fill="#000">FT-L5-010</text>
<text transform="translate(1832.0 1873) scale(1 1.04)" font-size="21.3" font-weight="bold" letter-spacing="0.35" fill="#1e90ff"><tspan font-size="20.6">[</tspan>B<tspan font-size="20.6">]</tspan></text>
<text transform="translate(1897.6 1873) scale(1 1.04)" font-size="21.7" font-weight="bold" text-anchor="end">......</text>
<text transform="translate(1901 1873) scale(1 1.04)" font-size="21.7" font-weight="bold" fill="#000">FT-L5-011</text>
<text transform="translate(1832.0 1894.55) scale(1 1.04)" font-size="21.3" font-weight="bold" letter-spacing="0.35" fill="#1e90ff"><tspan font-size="20.6">[</tspan>B<tspan font-size="20.6">]</tspan></text>
<text transform="translate(1897.6 1894.55) scale(1 1.04)" font-size="21.7" font-weight="bold" text-anchor="end">......</text>
<text transform="translate(1901 1894.55) scale(1 1.04)" font-size="21.7" font-weight="bold" fill="#000">FT-L5-012</text>
<text transform="translate(1832.0 1916.1) scale(1 1.04)" font-size="21.3" font-weight="bold" letter-spacing="0.35" fill="#1e90ff"><tspan font-size="20.6">[</tspan>B<tspan font-size="20.6">]</tspan></text>
<text transform="translate(1897.6 1916.1) scale(1 1.04)" font-size="21.7" font-weight="bold" text-anchor="end">......</text>
<text transform="translate(1901 1916.1) scale(1 1.04)" font-size="21.7" font-weight="bold" fill="#000">EF184582</text>
<text transform="translate(1832.0 1937.65) scale(1 1.04)" font-size="21.3" font-weight="bold" letter-spacing="0.35" fill="#1e90ff"><tspan font-size="20.6">[</tspan>B<tspan font-size="20.6">]</tspan></text>
<text transform="translate(1897.6 1937.65) scale(1 1.04)" font-size="21.7" font-weight="bold" text-anchor="end">......</text>
<text transform="translate(1901 1937.65) scale(1 1.04)" font-size="21.7" font-weight="bold" fill="#000">NA19373</text>
<text transform="translate(1832.0 1959.2) scale(1 1.04)" font-size="21.3" font-weight="bold" letter-spacing="0.35" fill="#1e90ff"><tspan font-size="20.6">[</tspan>B<tspan font-size="20.6">]</tspan></text>
<text transform="translate(1897.6 1959.2) scale(1 1.04)" font-size="21.7" font-weight="bold" text-anchor="end">......</text>
<text transform="translate(1901 1959.2) scale(1 1.04)" font-size="21.7" font-weight="bold" fill="#000">NA19374</text>
<text transform="translate(656.2 650.6) scale(1 1.04)" font-size="61.7" font-weight="bold" fill="#000">L7</text>
<text transform="translate(782.3 544.9) scale(1 1.07)" font-size="43.5" font-weight="bold" fill="#000">L7a</text>
<text transform="translate(1081.4 754.8) scale(1 1.04)" font-size="44" font-weight="bold" fill="#000">L7b</text>
<text transform="translate(912.3 539.8) scale(1 1.06)" font-size="29" font-weight="bold" fill="#000">L7a*</text>
<text transform="translate(1544.2 566) scale(1 1.07)" font-size="32" font-weight="bold" fill="#000">L7a1</text>
<text transform="translate(1474.5 695.3) scale(1 1.07)" font-size="32" font-weight="bold" fill="#000">L7b1</text>
<text transform="translate(1418.8 818.3) scale(1 1.05)" font-size="32.9" font-weight="bold" fill="#000">L7b2</text>
<text transform="translate(507 1042.3) scale(1 1.04)" font-size="63" font-weight="bold" fill="#000">L5'7</text>
<text transform="translate(654.9 1433.7) scale(1 1.04)" font-size="62" font-weight="bold" fill="#000">L5</text>
<text transform="translate(1346.1 1120.9) scale(1 1.09)" font-size="42.6" font-weight="bold" fill="#000">L5a</text>
<text transform="translate(1404.8 957.3) scale(1 1.05)" font-size="32.9" font-weight="bold" fill="#000">L5a2</text>
<text transform="translate(1478.4 1286) scale(1 1.07)" font-size="32" font-weight="bold" fill="#000">L5a1</text>
<text transform="translate(1258.8 1749.7) scale(1 1.03)" font-size="44.6" font-weight="bold" fill="#000">L5b</text>
<text transform="translate(1373.8 1725.4) scale(1 1.04)" font-size="29" font-weight="bold" fill="#000">L5b*</text>
<text transform="translate(1452.7 1788) scale(1 1.07)" font-size="32" font-weight="bold" fill="#000">L5b1</text>
<line x1="33.3" y1="2351" x2="1829.2" y2="2351" stroke="#000" stroke-width="5.2"/>
<line x1="1826.6" y1="2350" x2="1826.6" y2="2370.3" stroke="#000" stroke-width="5.2" stroke-linecap="round"/>
<text transform="translate(1830.1 2416.5) scale(1 1.04)" font-size="39" font-weight="bold" text-anchor="middle" letter-spacing="7">0</text>
<line x1="1766.91" y1="2350" x2="1766.91" y2="2360" stroke="#000" stroke-width="4.6" stroke-linecap="round"/>
<line x1="1707.22" y1="2350" x2="1707.22" y2="2360" stroke="#000" stroke-width="4.6" stroke-linecap="round"/>
<line x1="1647.53" y1="2350" x2="1647.53" y2="2360" stroke="#000" stroke-width="4.6" stroke-linecap="round"/>
<line x1="1587.84" y1="2350" x2="1587.84" y2="2360" stroke="#000" stroke-width="4.6" stroke-linecap="round"/>
<line x1="1528.15" y1="2350" x2="1528.15" y2="2370.3" stroke="#000" stroke-width="5.2" stroke-linecap="round"/>
<text transform="translate(1531.65 2416.5) scale(1 1.04)" font-size="39" font-weight="bold" text-anchor="middle" letter-spacing="7">25</text>
<line x1="1468.46" y1="2350" x2="1468.46" y2="2360" stroke="#000" stroke-width="4.6" stroke-linecap="round"/>
<line x1="1408.77" y1="2350" x2="1408.77" y2="2360" stroke="#000" stroke-width="4.6" stroke-linecap="round"/>
<line x1="1349.08" y1="2350" x2="1349.08" y2="2360" stroke="#000" stroke-width="4.6" stroke-linecap="round"/>
<line x1="1289.39" y1="2350" x2="1289.39" y2="2360" stroke="#000" stroke-width="4.6" stroke-linecap="round"/>
<line x1="1229.7" y1="2350" x2="1229.7" y2="2370.3" stroke="#000" stroke-width="5.2" stroke-linecap="round"/>
<text transform="translate(1233.2 2416.5) scale(1 1.04)" font-size="39" font-weight="bold" text-anchor="middle" letter-spacing="7">50</text>
<line x1="1170.01" y1="2350" x2="1170.01" y2="2360" stroke="#000" stroke-width="4.6" stroke-linecap="round"/>
<line x1="1110.32" y1="2350" x2="1110.32" y2="2360" stroke="#000" stroke-width="4.6" stroke-linecap="round"/>
<line x1="1050.63" y1="2350" x2="1050.63" y2="2360" stroke="#000" stroke-width="4.6" stroke-linecap="round"/>
<line x1="990.94" y1="2350" x2="990.94" y2="2360" stroke="#000" stroke-width="4.6" stroke-linecap="round"/>
<line x1="931.25" y1="2350" x2="931.25" y2="2370.3" stroke="#000" stroke-width="5.2" stroke-linecap="round"/>
<text transform="translate(934.75 2416.5) scale(1 1.04)" font-size="39" font-weight="bold" text-anchor="middle" letter-spacing="7">75</text>
<line x1="871.56" y1="2350" x2="871.56" y2="2360" stroke="#000" stroke-width="4.6" stroke-linecap="round"/>
<line x1="811.87" y1="2350" x2="811.87" y2="2360" stroke="#000" stroke-width="4.6" stroke-linecap="round"/>
<line x1="752.18" y1="2350" x2="752.18" y2="2360" stroke="#000" stroke-width="4.6" stroke-linecap="round"/>
<line x1="692.49" y1="2350" x2="692.49" y2="2360" stroke="#000" stroke-width="4.6" stroke-linecap="round"/>
<line x1="632.8" y1="2350" x2="632.8" y2="2370.3" stroke="#000" stroke-width="5.2" stroke-linecap="round"/>
<text transform="translate(636.3 2416.5) scale(1 1.04)" font-size="39" font-weight="bold" text-anchor="middle" letter-spacing="7">100</text>
<line x1="573.11" y1="2350" x2="573.11" y2="2360" stroke="#000" stroke-width="4.6" stroke-linecap="round"/>
<line x1="513.42" y1="2350" x2="513.42" y2="2360" stroke="#000" stroke-width="4.6" stroke-linecap="round"/>
<line x1="453.73" y1="2350" x2="453.73" y2="2360" stroke="#000" stroke-width="4.6" stroke-linecap="round"/>
<line x1="394.04" y1="2350" x2="394.04" y2="2360" stroke="#000" stroke-width="4.6" stroke-linecap="round"/>
<line x1="334.35" y1="2350" x2="334.35" y2="2370.3" stroke="#000" stroke-width="5.2" stroke-linecap="round"/>
<text transform="translate(337.85 2416.5) scale(1 1.04)" font-size="39" font-weight="bold" text-anchor="middle" letter-spacing="7">125</text>
<line x1="274.66" y1="2350" x2="274.66" y2="2360" stroke="#000" stroke-width="4.6" stroke-linecap="round"/>
<line x1="214.97" y1="2350" x2="214.97" y2="2360" stroke="#000" stroke-width="4.6" stroke-linecap="round"/>
<line x1="155.28" y1="2350" x2="155.28" y2="2360" stroke="#000" stroke-width="4.6" stroke-linecap="round"/>
<line x1="95.59" y1="2350" x2="95.59" y2="2360" stroke="#000" stroke-width="4.6" stroke-linecap="round"/>
<line x1="35.9" y1="2350" x2="35.9" y2="2370.3" stroke="#000" stroke-width="5.2" stroke-linecap="round"/>
<text transform="translate(39.4 2416.5) scale(1 1.04)" font-size="39" font-weight="bold" text-anchor="middle" letter-spacing="7">150</text>
<text transform="translate(569.6 2502.3) scale(1 1.04)" font-size="64" font-weight="bold" letter-spacing="7.45">Thousand Years BP</text>
</svg></body></html>
